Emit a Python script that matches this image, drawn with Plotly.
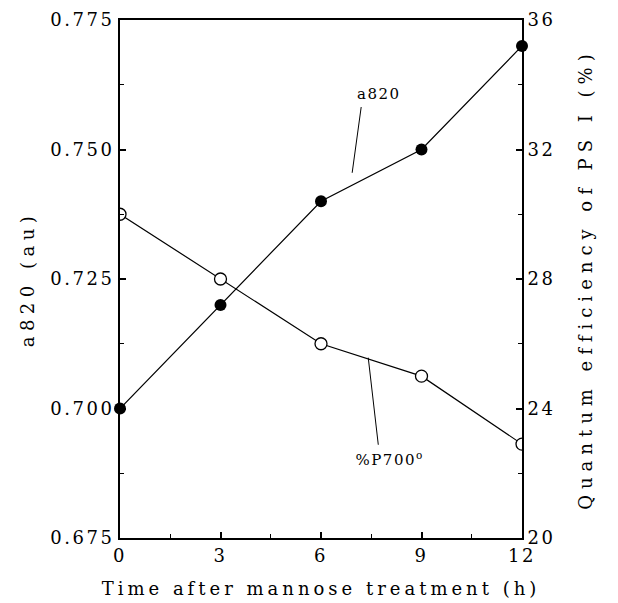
import plotly.graph_objects as go

# Sampling times (h) after mannose treatment
time_h = [0, 3, 6, 9, 12]
# Absorbance change at 820 nm (left axis)
a820 = [0.700, 0.720, 0.740, 0.750, 0.770]
# Quantum efficiency of PS I, %P700 oxidised (right axis)
p700_eff = [30.0, 28.0, 26.0, 25.0, 22.9]

x_ticks = [0, 3, 6, 9, 12]
left_ticks = [0.675, 0.700, 0.725, 0.750, 0.775]
right_ticks = [20, 24, 28, 32, 36]

SERIF = "DejaVu Serif"
INK = "black"

fig = go.Figure()

fig.add_trace(go.Scatter(
    x=time_h, y=a820, name="a820", mode="lines+markers",
    line=dict(color=INK, width=1.2),
    marker=dict(symbol="circle", size=12, color=INK),
    cliponaxis=False, showlegend=False,
))
fig.add_trace(go.Scatter(
    x=time_h, y=p700_eff, name="%P700o", yaxis="y2", mode="lines+markers",
    line=dict(color=INK, width=1.2),
    marker=dict(symbol="circle", size=12, color="white",
                line=dict(color=INK, width=1.3)),
    cliponaxis=True, showlegend=False,
))

axis_common = dict(
    ticks="inside", tickcolor=INK, tickwidth=1.5, ticklen=6,
    showline=True, linecolor=INK, linewidth=2,
    showgrid=False, zeroline=False, automargin=False,
    tickfont=dict(family=SERIF, size=18, color=INK),
)

fig.update_layout(
    width=618, height=603,
    margin=dict(l=120, r=96, t=20, b=65),
    plot_bgcolor="white", paper_bgcolor="white",
    font=dict(family=SERIF, size=18, color=INK),
    showlegend=False,
    xaxis=dict(
        range=[0, 12], tickvals=x_ticks, mirror=True,
        minor=dict(tick0=0, dtick=1.5, ticks="inside", ticklen=4,
                   tickcolor=INK, tickwidth=1),
        title=dict(text="Time after mannose treatment (h)", standoff=18,
                   font=dict(family=SERIF, size=18, color=INK)),
        **axis_common,
    ),
    yaxis=dict(
        range=[0.675, 0.775], tickvals=left_ticks,
        ticktext=[f"{v:.3f}" for v in left_ticks],
        minor=dict(tick0=0.675, dtick=0.0125, ticks="inside", ticklen=4,
                   tickcolor=INK, tickwidth=1),
        title=dict(text="a820 (au)", standoff=24,
                   font=dict(family=SERIF, size=18, color=INK)),
        **axis_common,
    ),
    yaxis2=dict(
        range=[20, 36], tickvals=right_ticks, overlaying="y", side="right",
        minor=dict(tick0=20, dtick=2, ticks="inside", ticklen=4,
                   tickcolor=INK, tickwidth=1),
        title=dict(text="Quantum efficiency of PS I (%)", standoff=30,
                   font=dict(family=SERIF, size=18, color=INK)),
        **axis_common,
    ),
)

# Series labels with their leader lines
fig.add_shape(type="line", xref="x", yref="y", x0=6.93, y0=0.7455, x1=7.2, y1=0.7582,
              line=dict(color=INK, width=1))
fig.add_shape(type="line", xref="x", yref="y2", x0=7.41, y0=25.57, x1=7.71, y1=22.88,
              line=dict(color=INK, width=1))
fig.add_annotation(x=7.74, y=0.7607, xref="x", yref="y", text="a820", showarrow=False,
                   font=dict(family=SERIF, size=15, color=INK))
fig.add_annotation(x=8.04, y=22.45, xref="x", yref="y2", text="%P700<sup>o</sup>",
                   showarrow=False, font=dict(family=SERIF, size=15, color=INK))

# Wide letter spacing for the typeset look of the labels
spacing_css = (
    ".xtick text,.ytick text,.y2tick text{letter-spacing:2.5px}"
    ".xtitle{letter-spacing:4px}"
    ".ytitle{letter-spacing:5.5px}"
    ".y2title{letter-spacing:6px}"
    ".annotation-text{letter-spacing:1.5px}"
)
post_js = (
    "var s=document.createElement('style');"
    f"s.textContent='{spacing_css}';"
    "document.head.appendChild(s);"
)

fig.write_html("out.html", post_script=post_js)
